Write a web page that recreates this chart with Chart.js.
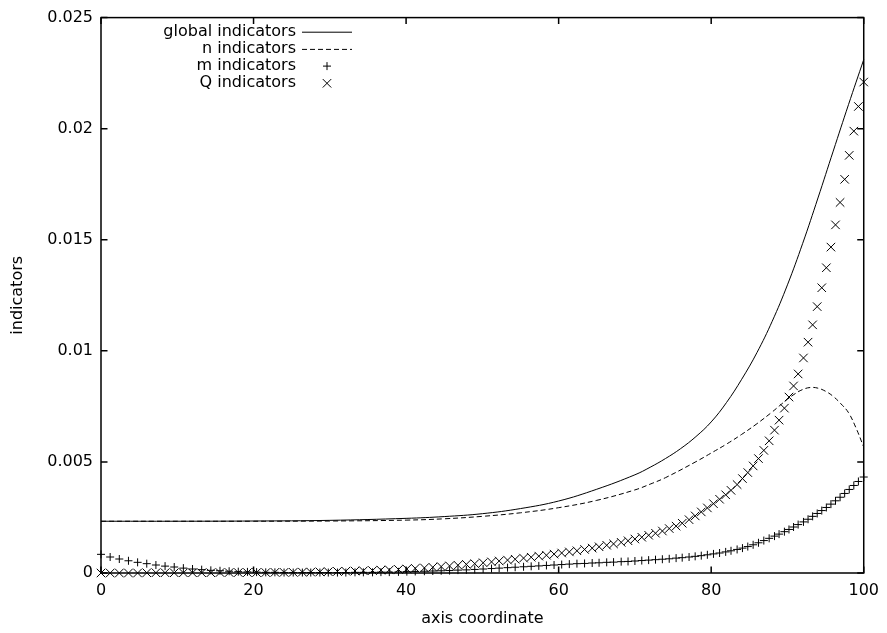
<!DOCTYPE html>
<html><head><meta charset="utf-8">
<script src="https://cdn.jsdelivr.net/npm/chart.js@4.4.0/dist/chart.umd.min.js"></script>
<style>html,body{margin:0;padding:0;background:#fff;}#wrap{width:887px;height:633px;}</style>
</head><body><div id="wrap"><canvas id="c" width="887" height="633"></canvas></div>
<script>
const xTickValues = [0, 20, 40, 60, 80, 100];
const xTickLabels = ["0", "20", "40", "60", "80", "100"];
const yTickValues = [0, 0.005, 0.01, 0.015, 0.02, 0.025];
const yTickLabels = ["0", "0.005", "0.01", "0.015", "0.02", "0.025"];
const seriesNames = ["global indicators", "n indicators", "m indicators", "Q indicators"];
const xAxisTitle = "axis coordinate";
const yAxisTitle = "indicators";

const globalX = [0,10,20,30,40,45,50,55,60,65,70,72,74,76,78,80,82,84,86,88,90,92,94,96,98,100];
const globalVals = [0.00233,0.00233,0.00234,0.00237,0.00246,0.00254,0.00267,0.0029,0.00324,0.00377,0.00442,0.00476,0.00515,0.0056,0.00614,0.0068,0.00767,0.00872,0.00992,0.01133,0.01297,0.01484,0.01688,0.01899,0.02108,0.02311];
const nX = [0,10,20,30,40,45,50,55,60,65,70,72,74,78,80,82,84,86,88,89,90,91,92,93,94,95,96,97,98,99,100];
const nVals = [0.00233,0.00233,0.00233,0.00234,0.00238,0.00244,0.00255,0.00271,0.00294,0.00327,0.00374,0.004,0.00429,0.00501,0.0054,0.0058,0.00624,0.00672,0.00725,0.00754,0.00782,0.00807,0.00826,0.00835,0.00832,0.00818,0.00795,0.00762,0.00722,0.00652,0.00567];

const meshX = [0,1.2,2.4,3.6,4.8,6.0,7.2,8.4,9.6,10.8,12.0,13.2,14.4,15.6,16.8,18.0,19.2,20.4,21.6,22.8,24.0,25.2,
26.4,27.5,28.7,29.8,31.0,32.1,33.3,34.4,35.6,36.7,37.8,39.0,40.1,41.2,42.4,43.5,44.6,45.7,46.8,47.9,49.0,50.1,
51.2,52.2,53.3,54.3,55.4,56.4,57.4,58.4,59.4,60.4,61.4,62.4,63.4,64.4,65.3,66.3,67.2,68.2,69.1,70.0,70.9,71.8,72.7,73.6,74.5,75.4,
76.2,77.1,77.9,78.7,79.5,80.3,81.1,81.9,82.6,83.4,84.1,84.8,85.5,86.2,86.9,87.6,88.3,88.9,89.6,90.2,
90.8,91.4,92.1,92.7,93.3,93.9,94.5,95.1,95.7,96.3,96.9,97.5,98.1,98.7,99.3,100];
const mVals = [0.00084,0.00072,0.00063,0.00055,0.00048,0.00042,0.00036,0.00031,0.00027,0.00022,0.00018,0.00015,0.00012,0.0001,0.00008,0.00006,0.00005,0.00004,0.00003,0.00003,0.00002,0.00002,
0.00002,0.00002,0.00002,0.00002,0.00002,0.00002,0.00003,0.00003,0.00003,0.00004,0.00004,0.00005,0.00006,0.00007,0.00008,0.00009,0.0001,0.00011,0.00013,0.00014,0.00016,0.00018,
0.0002,0.00022,0.00024,0.00026,0.00028,0.0003,0.00032,0.00034,0.00036,0.00038,0.0004,0.00042,0.00043,0.00045,0.00046,0.00048,0.00049,0.00051,0.00052,0.00054,0.00056,0.00058,0.0006,0.00062,0.00064,0.00067,
0.00069,0.00072,0.00075,0.00078,0.00082,0.00086,0.0009,0.00095,0.001,0.00106,0.00112,0.00119,0.00127,0.00136,0.00146,0.00156,0.00166,0.00175,0.00186,0.00196,
0.00207,0.00218,0.0023,0.00242,0.00255,0.00268,0.00281,0.00295,0.0031,0.00325,0.00341,0.00358,0.00376,0.00394,0.00412,0.00432];
const qVals = [0,0,0,0,0,0.00001,0.00001,0.00001,0.00001,0.00001,0.00001,0.00001,0.00001,0.00002,0.00002,0.00002,0.00002,0.00002,0.00002,0.00003,0.00003,0.00003,
0.00004,0.00004,0.00005,0.00006,0.00007,0.00008,0.00009,0.0001,0.00011,0.00013,0.00014,0.00016,0.00018,0.00021,0.00023,0.00026,0.00029,0.00032,0.00035,0.00039,0.00042,0.00046,
0.0005,0.00054,0.00058,0.00062,0.00067,0.00071,0.00076,0.0008,0.00085,0.0009,0.00095,0.001,0.00106,0.00112,0.00118,0.00125,0.00131,0.00138,0.00145,0.00153,0.00161,0.0017,0.00179,0.00189,0.002,0.00211,
0.00224,0.0024,0.00257,0.00275,0.00293,0.00312,0.00332,0.00352,0.00372,0.00398,0.00425,0.00452,0.00482,0.00515,0.00552,0.00595,0.00643,0.00688,0.00742,0.00792,
0.00842,0.00896,0.00968,0.01039,0.01117,0.01199,0.01284,0.01374,0.01467,0.01567,0.01668,0.01772,0.0188,0.01989,0.021,0.0221];

const FONT = {family: "'DejaVu Sans', sans-serif", size: 16};
const toPts = (xs, ys) => xs.map((x, i) => ({x: x, y: ys[i]}));

const framePlugin = {
  id: 'gpFrame',
  afterDatasetsDraw(chart) {
    const {ctx, chartArea: a, scales: {x, y}} = chart;
    const L = 6.5;
    ctx.save();
    ctx.strokeStyle = '#000';
    ctx.lineWidth = 1.5;
    ctx.strokeRect(a.left, a.top, a.right - a.left, a.bottom - a.top);
    ctx.beginPath();
    x.ticks.forEach(t => {
      const px = x.getPixelForValue(t.value);
      ctx.moveTo(px, a.bottom); ctx.lineTo(px, a.bottom - L);
      ctx.moveTo(px, a.top); ctx.lineTo(px, a.top + L);
    });
    y.ticks.forEach(t => {
      const py = y.getPixelForValue(t.value);
      ctx.moveTo(a.left, py); ctx.lineTo(a.left + L, py);
      ctx.moveTo(a.right, py); ctx.lineTo(a.right - L, py);
    });
    ctx.stroke();
    ctx.restore();
  }
};

const legendPlugin = {
  id: 'gpLegend',
  afterDatasetsDraw(chart, args, opts) {
    const ctx = chart.ctx;
    ctx.save();
    ctx.font = "16px 'DejaVu Sans', sans-serif";
    ctx.fillStyle = '#000';
    ctx.strokeStyle = '#000';
    ctx.textAlign = 'right';
    ctx.textBaseline = 'middle';
    chart.data.datasets.forEach((ds, i) => {
      const yy = opts.top + i * opts.rowH;
      ctx.fillText(ds.label, opts.textRight, yy);
      ctx.lineWidth = 1;
      if (ds.showLine !== false) {
        ctx.beginPath();
        ctx.setLineDash(ds.borderDash || []);
        ctx.moveTo(opts.sx0, yy + 0.5); ctx.lineTo(opts.sx1, yy + 0.5);
        ctx.stroke();
        ctx.setLineDash([]);
      } else {
        Chart.helpers.drawPoint(ctx, {pointStyle: ds.pointStyle, radius: ds.pointRadius, borderWidth: 1, rotation: 0}, (opts.sx0 + opts.sx1) / 2, yy);
      }
    });
    ctx.restore();
  }
};

new Chart(document.getElementById('c').getContext('2d'), {
  type: 'line',
  data: {
    datasets: [
      {label: seriesNames[0], data: toPts(globalX, globalVals), borderColor: '#000', borderWidth: 1, pointRadius: 0, tension: 0.4, fill: false, clip: false},
      {label: seriesNames[1], data: toPts(nX, nVals), borderColor: '#000', borderWidth: 1, borderDash: [5, 3], pointRadius: 0, tension: 0.4, fill: false, clip: false},
      {label: seriesNames[2], data: toPts(meshX, mVals), showLine: false, pointStyle: 'cross', pointRadius: 4, borderColor: '#000', backgroundColor: '#000', borderWidth: 1, clip: false},
      {label: seriesNames[3], data: toPts(meshX, qVals), showLine: false, pointStyle: 'crossRot', pointRadius: 6, borderColor: '#000', backgroundColor: '#000', borderWidth: 1, clip: false}
    ]
  },
  options: {
    responsive: false,
    animation: false,
    devicePixelRatio: 1,
    layout: {padding: {top: 14, right: 21, left: 0, bottom: 0}},
    plugins: {
      legend: {display: false},
      tooltip: {enabled: false},
      gpLegend: {top: 31.7, rowH: 17.2, textRight: 296, sx0: 302, sx1: 352}
    },
    scales: {
      x: {
        type: 'linear', min: 0, max: 100,
        afterBuildTicks: s => { s.ticks = xTickValues.map(v => ({value: v})); },
        afterFit: s => { s.height = 60; },
        ticks: {callback: (v, i) => xTickLabels[i], padding: 8, font: FONT, color: '#000', maxRotation: 0, autoSkip: false},
        grid: {display: false, drawTicks: false},
        border: {display: false},
        title: {display: true, text: xAxisTitle, font: FONT, color: '#000', padding: {top: 0, bottom: 5}}
      },
      y: {
        type: 'linear', min: 0, max: 0.025,
        afterBuildTicks: s => { s.ticks = yTickValues.map(v => ({value: v})); },
        afterFit: s => { s.width = 101; },
        ticks: {callback: (v, i) => yTickLabels[i], padding: 8, font: FONT, color: '#000', autoSkip: false},
        grid: {display: false, drawTicks: false},
        border: {display: false},
        title: {display: true, text: yAxisTitle, font: FONT, color: '#000', padding: {top: 8, bottom: 0}}
      }
    }
  },
  plugins: [framePlugin, legendPlugin]
});
</script>
</body></html>
